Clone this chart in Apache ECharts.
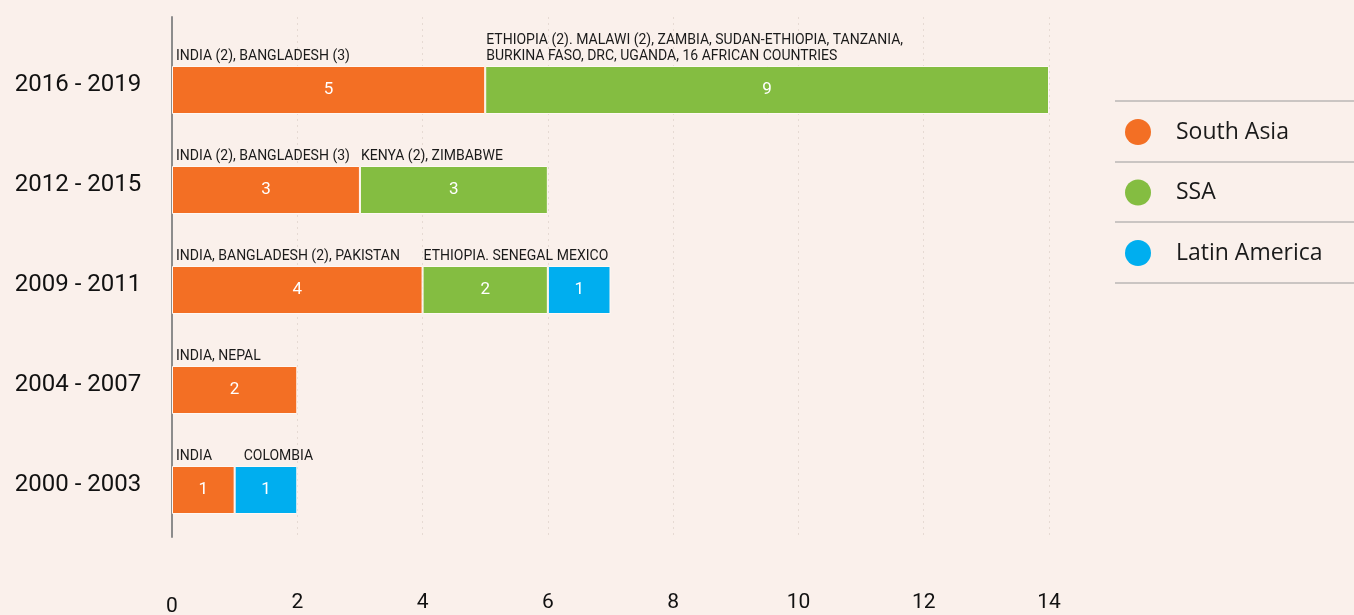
<!DOCTYPE html>
<html>
<head>
<meta charset="utf-8">
<script src="https://cdn.jsdelivr.net/npm/echarts@6/dist/echarts.min.js"></script>
<style>
  html, body { margin: 0; padding: 0; background: #FAF0EB; }
  #chart { width: 1354px; height: 615px; }
</style>
</head>
<body>
<div id="chart"></div>
<script>
// ---- Data ----
const categories = ['2000 - 2003', '2004 - 2007', '2009 - 2011', '2012 - 2015', '2016 - 2019'];
const seriesNames = ['South Asia', 'SSA', 'Latin America'];
const southAsia = [1, 2, 4, 3, 5];
const ssa = [0, 0, 2, 3, 9];
const latinAmerica = [1, 0, 1, 0, 0];
const southAsiaNotes = ['INDIA', 'INDIA, NEPAL', 'INDIA, BANGLADESH (2), PAKISTAN', 'INDIA (2), BANGLADESH (3)', 'INDIA (2), BANGLADESH (3)'];
const ssaNotes = ['', '', 'ETHIOPIA. SENEGAL', 'KENYA (2), ZIMBABWE', 'ETHIOPIA (2). MALAWI (2), ZAMBIA, SUDAN-ETHIOPIA, TANZANIA,\nBURKINA FASO, DRC, UGANDA, 16 AFRICAN COUNTRIES'];
const latinAmericaNotes = ['COLOMBIA', '', 'MEXICO', '', ''];
const xMin = 0, xMax = 14, xStep = 2;

// ---- Styles ----
const colors = ['#F36F24', '#84BD41', '#00AEEF'];
const noteOffsets = [4, 1, 9];
const font = 'Roboto, "Liberation Sans", sans-serif';
const values = [southAsia, ssa, latinAmerica];
const notes = [southAsiaNotes, ssaNotes, latinAmericaNotes];

const chart = echarts.init(document.getElementById('chart'), null, { renderer: 'canvas' });

const series = [];
values.forEach((vals, i) => {
  series.push({
    name: seriesNames[i],
    type: 'bar',
    stack: 'total',
    xAxisIndex: 0, yAxisIndex: 0,
    barWidth: 48,
    barGap: '-100%',
    data: vals.map(v => v === 0 ? null : v),
    itemStyle: { color: colors[i], borderColor: '#FFF8F4', borderWidth: 1 },
    label: {
      show: true, position: 'inside', color: '#ffffff',
      fontFamily: font, fontSize: 17,
      formatter: p => p.value
    },
    emphasis: { disabled: true },
    silent: true
  });
});
values.forEach((vals, i) => {
  series.push({
    name: seriesNames[i] + ' notes',
    type: 'bar',
    stack: 'notes',
    xAxisIndex: 0, yAxisIndex: 0,
    barWidth: 48,
    barGap: '-100%',
    data: vals.map(v => v === 0 ? null : v),
    itemStyle: { color: 'rgba(0,0,0,0)' },
    label: {
      show: true,
      position: [noteOffsets[i], -2],
      align: 'left',
      verticalAlign: 'bottom',
      color: '#1a1a1a',
      fontFamily: font, fontSize: 14,
      lineHeight: 16,
      formatter: p => notes[i][p.dataIndex]
    },
    emphasis: { disabled: true },
    silent: true,
    z: 5
  });
});

const option = {
  backgroundColor: '#FAF0EB',
  animation: false,
  legend: {
    data: seriesNames,
    orient: 'vertical',
    left: 1120,
    top: 114,
    itemWidth: 26,
    itemHeight: 26,
    itemGap: 34.5,
    icon: 'circle',
    selectedMode: false,
    itemStyle: { borderWidth: 0 },
    textStyle: { fontFamily: '"Open Sans", ' + font, fontSize: 23, lineHeight: 26, color: '#1a1a1a', padding: [0, 0, 0, 20] }
  },
  grid: [
    { left: 172, right: 305, top: 40, bottom: 75, outerBoundsMode: 'none', containLabel: false },
    { left: 172, right: 305, top: 17, bottom: 78, outerBoundsMode: 'none', containLabel: false }
  ],
  xAxis: [
    {
      gridIndex: 0, type: 'value', min: xMin, max: xMax, interval: xStep,
      axisLine: { show: false }, axisTick: { show: false }, splitLine: { show: false },
      axisLabel: {
        show: true, margin: 52, verticalAlign: 'top',
        fontFamily: font, fontSize: 21, color: '#111',
        formatter: v => v === 0 ? '{z|0}' : String(v),
        rich: { z: { fontFamily: font, fontSize: 21, color: '#111', padding: [4, 0, 0, 0] } }
      }
    },
    {
      gridIndex: 1, type: 'value', min: xMin, max: xMax, interval: xStep,
      axisLine: { show: false }, axisTick: { show: false }, axisLabel: { show: false },
      splitLine: { show: true, lineStyle: { color: '#E6DAD3', type: [2, 4], width: 1 } }
    }
  ],
  yAxis: [
    {
      gridIndex: 0, type: 'category', data: categories,
      axisLine: { show: false }, axisTick: { show: false }, splitLine: { show: false },
      axisLabel: {
        margin: 94, align: 'center',
        formatter: v => '{c|' + v + '}',
        rich: { c: { fontFamily: font, fontSize: 24, color: '#111', padding: [0, 0, 11, 0] } }
      }
    },
    {
      gridIndex: 1, type: 'category', data: categories,
      axisLine: { show: true, lineStyle: { color: '#8C8C8C', width: 2 } },
      axisTick: { show: false }, axisLabel: { show: false }, splitLine: { show: false }
    }
  ],
  graphic: [
    { type: 'line', shape: { x1: 1115, y1: 101, x2: 1354, y2: 101 }, style: { stroke: '#9a9a9a', lineWidth: 1 } },
    { type: 'line', shape: { x1: 1115, y1: 162, x2: 1354, y2: 162 }, style: { stroke: '#9a9a9a', lineWidth: 1 } },
    { type: 'line', shape: { x1: 1115, y1: 222, x2: 1354, y2: 222 }, style: { stroke: '#9a9a9a', lineWidth: 1 } },
    { type: 'line', shape: { x1: 1115, y1: 283, x2: 1354, y2: 283 }, style: { stroke: '#9a9a9a', lineWidth: 1 } }
  ],
  series: series
};
chart.setOption(option);
</script>
</body>
</html>
